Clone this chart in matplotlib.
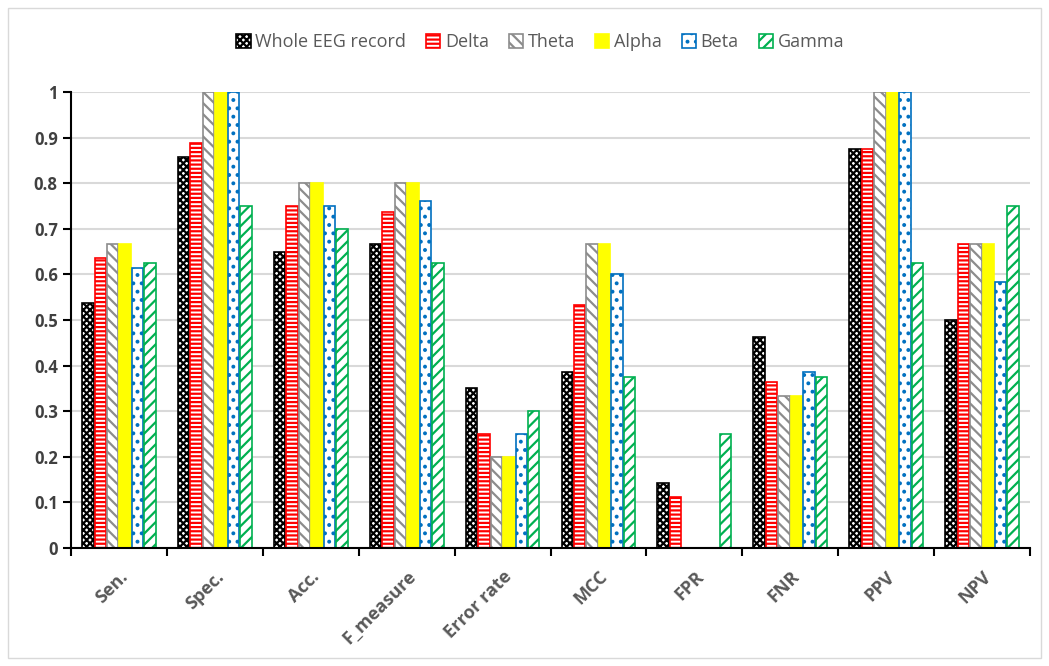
import numpy as np
import matplotlib.pyplot as plt
from matplotlib.patches import Rectangle

# metric categories and per-band results
metrics = ['Sen.', 'Spec.', 'Acc.', 'F_measure', 'Error rate', 'MCC', 'FPR', 'FNR', 'PPV', 'NPV']
series_names = ['Whole EEG record', 'Delta', 'Theta', 'Alpha', 'Beta', 'Gamma']

whole_eeg = [0.538, 0.857, 0.65, 0.667, 0.35, 0.385, 0.143, 0.462, 0.875, 0.5]
delta = [0.636, 0.889, 0.75, 0.737, 0.25, 0.533, 0.111, 0.364, 0.875, 0.667]
theta = [0.667, 1.0, 0.8, 0.8, 0.2, 0.667, 0.0, 0.333, 1.0, 0.667]
alpha = [0.667, 1.0, 0.8, 0.8, 0.2, 0.667, 0.0, 0.333, 1.0, 0.667]
beta = [0.615, 1.0, 0.75, 0.762, 0.25, 0.6, 0.0, 0.385, 1.0, 0.583]
gamma = [0.625, 0.75, 0.7, 0.625, 0.3, 0.375, 0.25, 0.375, 0.625, 0.75]

yticks = np.arange(0, 1.01, 0.1)
ytick_labels = ['0', '0.1', '0.2', '0.3', '0.4', '0.5', '0.6', '0.7', '0.8', '0.9', '1']

plt.rcParams['font.family'] = ['Open Sans', 'DejaVu Sans']
plt.rcParams['hatch.linewidth'] = 1.6

# (face, edge, hatch) per series
styles = [
    ('white', 'black', 'xxxxx'),
    ('white', '#ff0000', '----'),
    ('white', '#8c8c8c', '\\\\\\'),
    ('#ffff00', '#ffff00', ''),
    ('white', '#0070c0', '..'),
    ('white', '#00b050', '///'),
]

fig = plt.figure(figsize=(10.49, 6.66), dpi=100)
ax = fig.add_axes([71 / 1049, 1 - 548 / 666, (1030 - 71) / 1049, (548 - 92) / 666])

all_series = [whole_eeg, delta, theta, alpha, beta, gamma]
x = np.arange(len(metrics))
bw = 0.13
for i, (vals, name) in enumerate(zip(all_series, series_names)):
    face, edge, hatch = styles[i]
    off = (i - 2.5) * bw
    bars = ax.bar(x + off, vals, width=bw * 0.92, facecolor=face, edgecolor=edge,
                  hatch=hatch, linewidth=1.2, label=name, zorder=3)
    # zero-height bars leave no mark in the original
    for b, v in zip(bars, vals):
        if v == 0:
            b.set_visible(False)

ax.set_xlim(-0.5, len(metrics) - 0.5)
ax.set_ylim(0, 1)
ax.set_yticks(yticks)
ax.set_yticklabels(ytick_labels, fontsize=12, fontweight='bold', color='#404040')
ax.set_xticks(x)
ax.set_xticklabels(metrics, rotation=45, ha='right', rotation_mode='anchor',
                   fontsize=13, fontweight='bold', color='#595959')
ax.tick_params(axis='x', length=0, pad=14)
# category boundary ticks
ax.set_xticks(np.arange(-0.5, len(metrics), 1.0), minor=True)
ax.tick_params(axis='x', which='minor', length=6, width=1.5, color='black', direction='out')
ax.tick_params(axis='y', length=6, width=1.5, color='black', direction='out')
ax.grid(axis='y', color='#d9d9d9', linewidth=1.5, zorder=0)
ax.set_axisbelow(True)
for side in ['top', 'right']:
    ax.spines[side].set_visible(False)
ax.spines['left'].set_linewidth(1.5)
ax.spines['bottom'].set_linewidth(1.5)
ax.spines['bottom'].set_zorder(4)

leg = fig.legend(loc='center', bbox_to_anchor=(0.515, 1 - 42 / 666), ncol=6, frameon=False,
                 fontsize=13, handlelength=0.8, handleheight=0.8, handletextpad=0.25,
                 columnspacing=1.1)
for t in leg.get_texts():
    t.set_color('#595959')

# outer chart frame
fig.patches.append(Rectangle((8 / 1049, 8 / 666), 1 - 16 / 1049, 1 - 16 / 666,
                             transform=fig.transFigure, fill=False,
                             edgecolor='#d9d9d9', linewidth=1))

fig.savefig('out.png', dpi=100)
